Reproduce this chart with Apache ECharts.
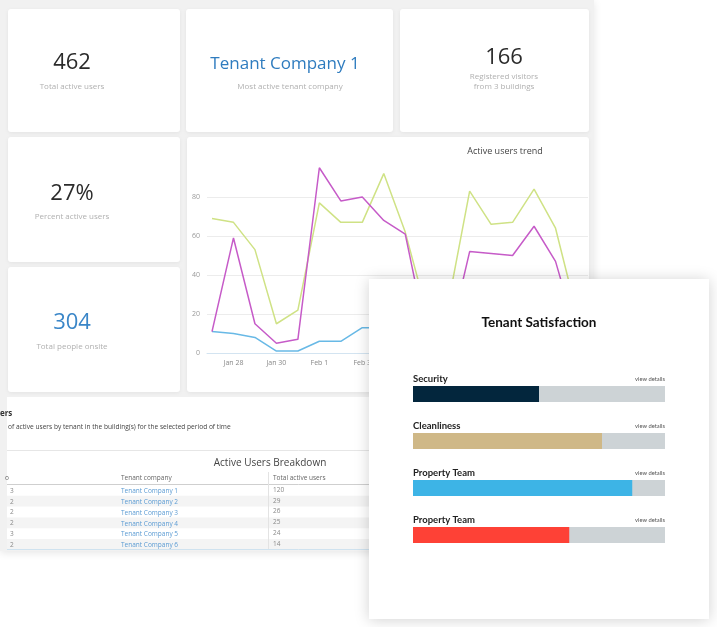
<!DOCTYPE html>
<html><head><meta charset="utf-8">
<script src="https://cdn.jsdelivr.net/npm/echarts@6/dist/echarts.min.js"></script>
<style>html,body{margin:0;padding:0;background:#fff}#c{width:717px;height:627px}</style>
</head><body><div id="c"></div>
<script>
// ---- data ----
const trendDates = ['Jan 27','Jan 28','Jan 29','Jan 30','Jan 31','Feb 1','Feb 2','Feb 3','Feb 4','Feb 5','Feb 6','Feb 7','Feb 8','Feb 9','Feb 10','Feb 11','Feb 12','Feb 13'];
const trendGreen   = [69, 67, 53, 15, 22, 77, 67, 67, 92, 62, 21, 25, 83, 66, 67, 84, 64, 20];
const trendMagenta = [11, 59, 15, 5, 7, 95, 78, 80, 68, 61, 8, 5, 52, 51, 50, 65, 47, 9];
const trendBlue    = [11, 10, 8, 1, 1, 6, 6, 13, 13, 12, 10, 9, 11, 12, 10, 12, 9, 8];
const trendYMin = 0, trendYMax = 100, trendYStep = 20;

const kpiValues = ['462', 'Tenant Company 1', '166', '27%', '304'];
const kpiLabels = ['Total active users', 'Most active tenant company', 'Registered visitors\nfrom 3 buildings', 'Percent active users', 'Total people onsite'];

const tableFloors = ['3', '2', '2', '2', '3', '2'];
const tableCompanies = ['Tenant Company 1', 'Tenant Company 2', 'Tenant Company 3', 'Tenant Company 4', 'Tenant Company 5', 'Tenant Company 6'];
const tableUsers = ['120', '29', '26', '25', '24', '14'];

const satisfactionCategories = ['Security', 'Cleanliness', 'Property Team', 'Property Team'];
const satisfactionScores = [50, 75, 87, 62];
const satisfactionMax = 100;

// ---- styles ----
const barColors = ['#03263d', '#cfb887', '#3db4e6', '#fe4136'];
const FONT = "'Open Sans', sans-serif";
const PFONT = "Lato, sans-serif";

function txt(text, x, y, size, color, opts) {
  opts = opts || {};
  return {
    type: 'text', z: opts.z || 1, silent: true,
    style: {
      text: text, x: x, y: y, fill: color,
      font: (opts.weight || 'normal') + ' ' + size + 'px ' + (opts.family || FONT),
      align: opts.align || 'center', verticalAlign: 'middle',
      textAlign: opts.align || 'center', textVerticalAlign: 'middle',
      lineHeight: opts.lineHeight
    }
  };
}
function rect(x, y, w, h, fill, opts) {
  opts = opts || {};
  return {
    type: 'rect', z: opts.z !== undefined ? opts.z : 0, silent: true,
    shape: { x: x, y: y, width: w, height: h, r: opts.r || 0 },
    style: { fill: fill, shadowBlur: opts.blur || 0, shadowColor: opts.shadow || 'transparent', shadowOffsetY: opts.oy || 0, shadowOffsetX: opts.ox || 0 }
  };
}
function line(x1, y1, x2, y2, color, z) {
  return { type: 'line', z: z || 1, silent: true, shape: { x1: x1, y1: y1, x2: x2, y2: y2 }, style: { stroke: color, lineWidth: 1 } };
}

const g = [];
// dashboard frame
g.push(rect(0, 0, 594, 551, '#f1f1f1', { z: -5, blur: 8, shadow: 'rgba(0,0,0,0.10)', oy: 2 }));
// cards
const cardShadow = { r: 3, blur: 4, shadow: 'rgba(0,0,0,0.06)', oy: 1, z: -4 };
g.push(rect(8, 9, 172, 123, '#fff', cardShadow));
g.push(rect(186, 9, 207, 123, '#fff', cardShadow));
g.push(rect(400, 9, 189, 123, '#fff', cardShadow));
g.push(rect(8, 137, 172, 125, '#fff', cardShadow));
g.push(rect(8, 267, 172, 125, '#fff', cardShadow));
g.push(rect(187, 137, 402, 255, '#fff', cardShadow));
g.push(rect(7, 397, 583, 152, '#fff', { z: -4 }));

// KPI texts
g.push(txt(kpiValues[0], 72, 63, 22, '#2b2b2b'));
g.push(txt(kpiLabels[0], 72, 87, 8, '#b0b0b0'));
g.push(txt(kpiValues[1], 285, 64, 17, '#2f7cbf'));
g.push(txt(kpiLabels[1], 290, 87, 8, '#b0b0b0'));
g.push(txt(kpiValues[2], 504, 58, 22, '#2b2b2b'));
g.push(txt(kpiLabels[2], 504, 82, 8, '#b0b0b0', { lineHeight: 10 }));
g.push(txt(kpiValues[3], 72, 194, 22, '#2b2b2b'));
g.push(txt(kpiLabels[3], 72, 217, 8, '#b0b0b0'));
g.push(txt(kpiValues[4], 72, 323, 22, '#3a86c8'));
g.push(txt(kpiLabels[4], 72, 347, 8, '#b0b0b0'));

// trend title
g.push(txt('Active users trend', 505, 151, 9, '#444'));

// lower section
g.push(txt('ers', 0, 414, 8, '#333', { align: 'left', weight: 'bold' }));
g.push(txt('of active users by tenant in the building(s) for the selected period of time', 8, 427, 6.6, '#444', { align: 'left' }));
g.push(line(7, 450.5, 590, 450.5, '#e6e6e6'));
g.push(txt('Active Users Breakdown', 270, 463, 10, '#444'));
g.push(txt('o', 5, 478, 6.5, '#666', { align: 'left' }));
g.push(txt('Tenant company', 121, 478, 6.5, '#666', { align: 'left' }));
g.push(txt('Total active users', 273, 478, 6.5, '#666', { align: 'left' }));
g.push(line(7, 484.5, 590, 484.5, '#cfcfcf'));
const rowH = 10.8, row0 = 485;
for (let i = 0; i < tableCompanies.length; i++) {
  const yc = row0 + rowH * i + rowH / 2;
  if (i % 2 === 1) g.push(rect(7, row0 + rowH * i, 583, rowH, '#f4f4f4', { z: 0 }));
  g.push(txt(tableFloors[i], 10, yc + 0.5, 6.5, '#888', { align: 'left', z: 2 }));
  g.push(txt(tableCompanies[i], 121, yc + 1, 6.5, '#5b9bd3', { align: 'left', z: 2 }));
  g.push(txt(tableUsers[i], 273, yc - 0.5, 6.5, '#888', { align: 'left', z: 2 }));
}
g.push(line(268.5, 472, 268.5, 549, '#e3e3e3', 2));
g.push(line(7, 549.5, 590, 549.5, '#cfe2ef', 2));

// satisfaction panel
g.push(rect(369, 279, 340, 340, '#fff', { z: 10, blur: 14, shadow: 'rgba(0,0,0,0.18)', oy: 1 }));
g.push(txt('Tenant Satisfaction', 539, 323, 13.5, '#111', { z: 11, weight: 'bold', family: PFONT }));

const chart = echarts.init(document.getElementById('c'), null, { renderer: 'canvas' });
chart.setOption({
  animation: false,
  backgroundColor: '#fff',
  graphic: { elements: g },
  grid: [
    { left: 212, top: 158, width: 365, height: 195 },
    { left: 207, top: 158, width: 381, height: 195 },
    { left: 413, top: 370.5, width: 252, height: 188 }
  ],
  xAxis: [
    {
      gridIndex: 0, type: 'category', data: trendDates, boundaryGap: false,
      axisLine: { show: false }, axisTick: { show: false }, splitLine: { show: false },
      axisLabel: { interval: function (i) { return i % 2 === 1; }, fontSize: 7, color: '#888', margin: 6, fontFamily: FONT }
    },
    {
      gridIndex: 1, type: 'value', min: 0, max: 1,
      axisLine: { show: true, lineStyle: { color: '#d3e4f1', width: 1 } },
      axisTick: { show: false }, axisLabel: { show: false }, splitLine: { show: false }
    },
    { gridIndex: 2, type: 'value', min: 0, max: satisfactionMax, show: false }
  ],
  yAxis: [
    { gridIndex: 0, type: 'value', min: trendYMin, max: trendYMax, show: false },
    {
      gridIndex: 1, type: 'value', min: trendYMin, max: trendYMax, interval: trendYStep,
      axisLine: { show: false }, axisTick: { show: false },
      axisLabel: { fontSize: 7, color: '#999', margin: 7, showMaxLabel: false, fontFamily: FONT },
      splitLine: { show: true, showMaxLine: false, showMinLine: false, lineStyle: { color: '#ececec', width: 1 } }
    },
    { gridIndex: 2, type: 'category', inverse: true, data: satisfactionCategories.map(function (_, i) { return String(i); }), show: false }
  ],
  series: [
    { type: 'line', xAxisIndex: 0, yAxisIndex: 0, data: trendGreen, showSymbol: false, z: 2, color: '#cfe285', lineStyle: { width: 1.5, color: '#cfe285' } },
    { type: 'line', xAxisIndex: 0, yAxisIndex: 0, data: trendMagenta, showSymbol: false, z: 3, color: '#c65bc8', lineStyle: { width: 1.5, color: '#c65bc8' } },
    { type: 'line', xAxisIndex: 0, yAxisIndex: 0, data: trendBlue, showSymbol: false, z: 2, color: '#68b9e6', lineStyle: { width: 1.5, color: '#68b9e6' } },
    {
      type: 'bar', xAxisIndex: 2, yAxisIndex: 2, barWidth: 16, barGap: '-100%', z: 20, silent: true,
      data: satisfactionCategories.map(function () { return satisfactionMax; }),
      itemStyle: { color: '#cdd3d6' },
      label: { show: true, formatter: 'view details', position: ['100%', -7], align: 'right', verticalAlign: 'middle', fontSize: 5.8, color: '#555', fontFamily: PFONT }
    },
    {
      type: 'bar', xAxisIndex: 2, yAxisIndex: 2, barWidth: 16, barGap: '-100%', z: 21, silent: true,
      data: satisfactionScores.map(function (v, i) { return { value: v, itemStyle: { color: barColors[i] } }; }),
      label: {
        show: true, formatter: function (p) { return satisfactionCategories[p.dataIndex]; },
        position: [0, -7], align: 'left', verticalAlign: 'middle', fontSize: 9.5, fontWeight: 'bold', color: '#222', fontFamily: PFONT
      }
    }
  ]
});
</script></body></html>
